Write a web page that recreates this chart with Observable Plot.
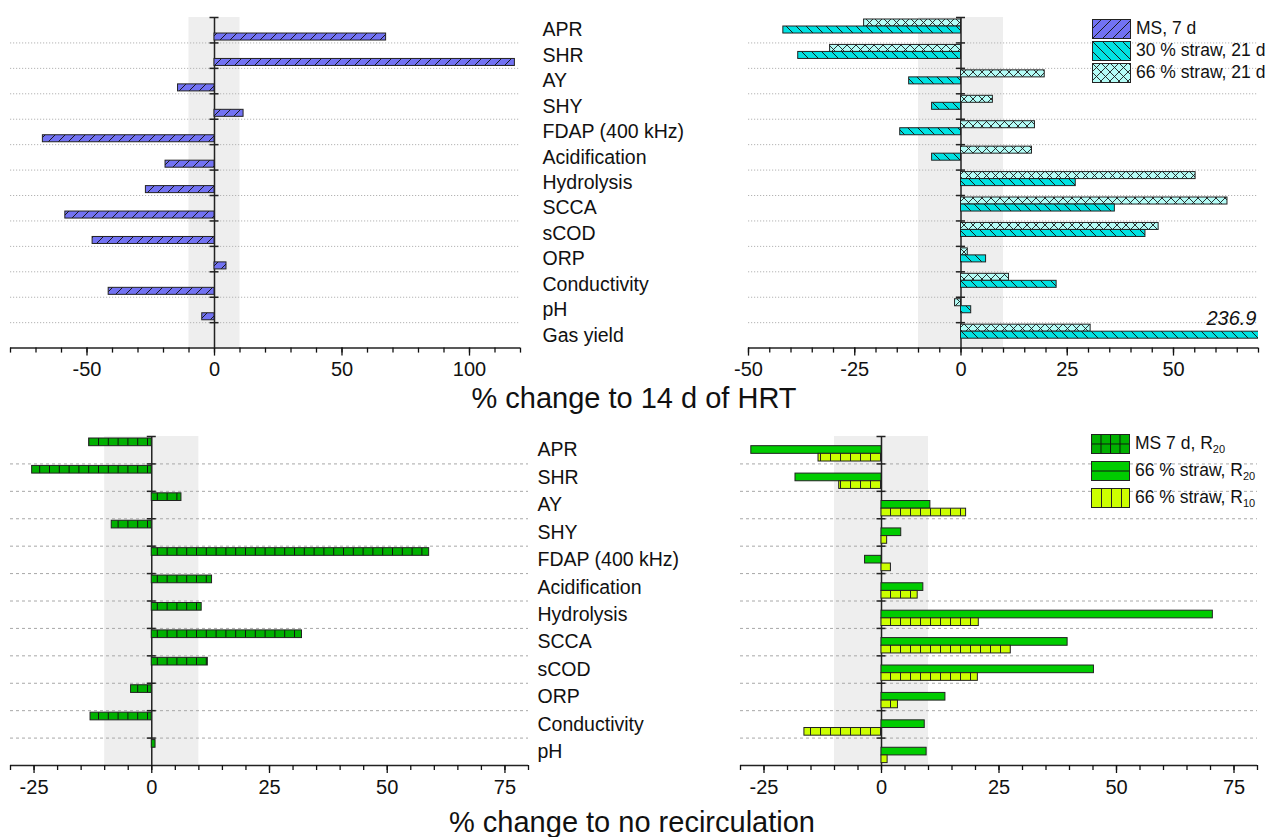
<!DOCTYPE html>
<html><head><meta charset="utf-8">
<script src="https://cdn.jsdelivr.net/npm/d3@7"></script>
<script src="https://cdn.jsdelivr.net/npm/@observablehq/plot@0.6"></script>
<style>
body{margin:0;background:#fff;font-family:"Liberation Sans",Arial,sans-serif;}
#root{position:relative;width:1265px;height:837px;overflow:hidden;background:#fff;}
.panel{position:absolute;}
.lg{position:absolute;display:flex;align-items:center;white-space:nowrap;font-size:17.5px;color:#111;}
.lg svg{margin-right:5px;flex:none;}
.lg sub{font-size:11px;vertical-align:-4px;}
.title{position:absolute;font-size:29px;color:#111;white-space:nowrap;transform:translate(-50%,-50%);}
</style></head>
<body>
<svg width="0" height="0" style="position:absolute">
 <defs>
  <pattern id="pMS" patternUnits="userSpaceOnUse" width="10" height="10">
   <rect width="10" height="10" fill="#7272f3"/>
   <path d="M-1,11 L11,-1 M-6,6 L6,-6 M4,16 L16,4" stroke="#1a1a1a" stroke-width="1"/>
  </pattern>
  <pattern id="p30" patternUnits="userSpaceOnUse" width="10" height="10">
   <rect width="10" height="10" fill="#00e2e2"/>
   <path d="M-1,-1 L11,11 M-6,4 L6,16 M4,-6 L16,6" stroke="#1a1a1a" stroke-width="1"/>
  </pattern>
  <pattern id="p66" patternUnits="userSpaceOnUse" width="9" height="9">
   <rect width="9" height="9" fill="#b4fcf6"/>
   <path d="M-1,-1 L10,10 M-1,10 L10,-1" stroke="#1a1a1a" stroke-width="0.9"/>
  </pattern>
  <pattern id="pMSR" patternUnits="userSpaceOnUse" width="9.8" height="20">
   <rect width="9.8" height="20" fill="#00b000"/>
   <path d="M0.5,0 V20" stroke="#111" stroke-width="1"/>
  </pattern>
  <pattern id="pMSRlg" patternUnits="userSpaceOnUse" width="9.5" height="9.5">
   <rect width="9.5" height="9.5" fill="#00b000"/>
   <path d="M0.5,0 V9.5 M0,0.5 H9.5" stroke="#111" stroke-width="1"/>
  </pattern>
  <pattern id="pR20lg" patternUnits="userSpaceOnUse" width="40" height="20">
   <rect width="40" height="20" fill="#00cc00"/>
   <path d="M0,10 H40" stroke="#111" stroke-width="1"/>
  </pattern>
  <pattern id="pR10" patternUnits="userSpaceOnUse" width="10" height="20">
   <rect width="10" height="20" fill="#ccff00"/>
   <path d="M0.5,0 V20" stroke="#222" stroke-width="1"/>
  </pattern>
 </defs>
</svg>
<div id="root"></div>
<script>
// ---------- data ----------
const catsTop = ["APR","SHR","AY","SHY","FDAP (400 kHz)","Acidification","Hydrolysis","SCCA","sCOD","ORP","Conductivity","pH","Gas yield"];
const catsBottom = ["APR","SHR","AY","SHY","FDAP (400 kHz)","Acidification","Hydrolysis","SCCA","sCOD","ORP","Conductivity","pH"];

// % change to 14 d of HRT
const ms7d      = [67.3, 117.8, -14.3, 11.4, -67.3, -19.2, -26.9, -58.5, -47.8, 4.7, -41.5, -4.8, null];
const straw30   = [-41.8, -38.3, -12.2, -6.8, -14.3, -6.8, 27.0, 36.2, 43.4, 5.9, 22.5, 2.4, 236.9];
const straw66   = [-22.8, -30.8, 19.7, 7.5, 17.4, 16.7, 55.2, 62.7, 46.5, 1.6, 11.3, -1.4, 30.5];

// % change to no recirculation
const ms7dR20    = [-13.3, -25.4, 6.3, -8.5, 58.9, 12.8, 10.6, 31.9, 11.9, -4.4, -13.0, 0.8];
const straw66R20 = [-27.7, -18.3, 10.4, 4.2, -3.5, 8.9, 70.5, 39.6, 45.2, 13.6, 9.2, 9.6];
const straw66R10 = [-13.4, -9.0, 18.0, 1.2, 2.0, 7.7, 20.7, 27.5, 20.5, 3.5, -16.4, 1.3];

const ticksTopLeft = [-50, 0, 50, 100];
const ticksTopRight = [-50, -25, 0, 25, 50];
const ticksBottom = [-25, 0, 25, 50, 75];
const domainTopLeft = [-80, 120];
const domainTopRight = [-50, 70];
const domainBottom = [-30, 80];
const neutralBand = [-10, 10];

const titleTop = "% change to 14 d of HRT";
const titleBottom = "% change to no recirculation";
const legendTop = [["MS, 7 d", "pMS"], ["30 % straw, 21 d", "p30"], ["66 % straw, 21 d", "p66"]];
const legendBottom = [["MS 7 d, R<sub>20</sub>", "pMSRlg"], ["66 % straw, R<sub>20</sub>", "pR20lg"], ["66 % straw, R<sub>10</sub>", "pR10"]];

// ---------- helpers ----------
const rows = (cats, vals) => cats.map((c, i) => ({cat: c, value: vals[i]})).filter(d => d.value != null);
const root = document.getElementById("root");

function panel(o) {
  const n = o.cats.length;
  const step = (o.height - o.mT - o.mB) / n;
  const pad = 2;
  const slot = (step - 2 * pad - 0.4) / 3;
  const marks = [
    Plot.rectX([neutralBand], {x1: d => d[0], x2: d => d[1], fill: "#eeeeee"}),
    Plot.ruleY(o.cats.slice(1), {dy: -step / 2, stroke: o.gridColor, strokeDasharray: o.gridDash, strokeWidth: 1}),
    Plot.ruleX([0], {stroke: "#222", strokeWidth: 1.5}),
    Plot.ruleY(o.cats, {x1: 0, x2: 0, insetLeft: -4.5, insetRight: -4.5, dy: -step / 2, stroke: "#222", strokeWidth: 1.5})
  ];
  for (const s of o.series) {
    marks.push(Plot.barX(s.data, {
      x: "value", y: "cat", fill: s.fill, stroke: "#222", strokeWidth: 1,
      insetTop: pad + s.slot * slot, insetBottom: step - pad - (s.slot + 1) * slot, clip: true
    }));
  }
  marks.push(Plot.ruleY([o.cats[n - 1]], {dy: step / 2, stroke: "#222", strokeWidth: 1.5}));
  marks.push(Plot.axisX({ticks: o.minor, tickSize: 5, tickFormat: () => "", label: null, strokeWidth: 1.3}));
  marks.push(Plot.axisX({ticks: o.major, tickSize: 8, tickPadding: 6, fontSize: 20, label: null, strokeWidth: 1.3,
                         tickFormat: d => String(d)}));
  if (o.labels) marks.push(Plot.axisY({anchor: "right", tickSize: 0, tickPadding: o.labelPad, fontSize: 19.5, label: null}));
  if (o.extra) marks.push(...o.extra(step));
  const p = Plot.plot({
    width: o.width, height: o.height,
    marginLeft: o.mL, marginRight: o.mR, marginTop: o.mT, marginBottom: o.mB,
    x: {domain: o.domain, label: null},
    y: {domain: o.cats, padding: 0, round: false, label: null, axis: o.labels ? undefined : null},
    style: {fontFamily: "'Liberation Sans', Arial, sans-serif", color: "#111", background: "transparent", overflow: "visible"},
    marks
  });
  p.classList.add("panel");
  p.style.left = o.left + "px";
  p.style.top = o.top + "px";
  root.appendChild(p);
}

// ---------- top ----------
panel({
  cats: catsTop, domain: domainTopLeft, major: ticksTopLeft, minor: d3.range(-80, 121, 10),
  series: [{data: rows(catsTop, ms7d), fill: "url(#pMS)", slot: 2}],
  left: 0, top: 0, width: 720, height: 384, mL: 10, mR: 200, mT: 17, mB: 36.4,
  labels: true, labelPad: 22, gridColor: "#b4b4b4", gridDash: "1.2,1.8"
});
panel({
  cats: catsTop, domain: domainTopRight, major: ticksTopRight, minor: d3.range(-50, 71, 5),
  series: [{data: rows(catsTop, straw66), fill: "url(#p66)", slot: 0},
           {data: rows(catsTop, straw30), fill: "url(#p30)", slot: 1}],
  left: 730, top: 0, width: 535, height: 384, mL: 18, mR: 7, mT: 17, mB: 36.4,
  labels: false, gridColor: "#b4b4b4", gridDash: "1.2,1.8",
  extra: step => [Plot.text(rows(catsTop, straw30).filter(d => d.value > domainTopRight[1]), {
    x: d => domainTopRight[1], y: "cat", text: d => d3.format(".1f")(d.value),
    textAnchor: "end", dx: -2, dy: -17, fontSize: 20, fontStyle: "italic", fill: "#111"
  })]
});

// ---------- bottom ----------
panel({
  cats: catsBottom, domain: domainBottom, major: ticksBottom, minor: d3.range(-30, 81, 5),
  series: [{data: rows(catsBottom, ms7dR20), fill: "url(#pMSR)", slot: 0}],
  left: 0, top: 420, width: 720, height: 380, mL: 10, mR: 192, mT: 16, mB: 35,
  labels: true, labelPad: 9, gridColor: "#a8a8a8", gridDash: "3,3"
});
panel({
  cats: catsBottom, domain: domainBottom, major: ticksBottom, minor: d3.range(-30, 81, 5),
  series: [{data: rows(catsBottom, straw66R20), fill: "#00cc00", slot: 1},
           {data: rows(catsBottom, straw66R10), fill: "url(#pR10)", slot: 2}],
  left: 730, top: 420, width: 535, height: 380, mL: 10, mR: 8, mT: 16, mB: 35,
  labels: false, gridColor: "#a8a8a8", gridDash: "3,3"
});

// ---------- titles ----------
function title(text, x, y) {
  const d = document.createElement("div");
  d.className = "title"; d.textContent = text;
  d.style.left = x + "px"; d.style.top = y + "px";
  root.appendChild(d);
}
title(titleTop, 634, 398);
title(titleBottom, 632, 822);

// ---------- legends ----------
function legend(items, x, y0, dy) {
  items.forEach(([label, pat], i) => {
    const d = document.createElement("div");
    d.className = "lg";
    d.style.left = x + "px"; d.style.top = (y0 + i * dy) + "px";
    d.innerHTML = `<svg width="39" height="20"><rect x="0.5" y="0.5" width="38" height="19" fill="url(#${pat})" stroke="#222" stroke-width="1"/></svg><span>${label}</span>`;
    root.appendChild(d);
  });
}
legend(legendTop, 1092, 18, 22);
legend(legendBottom, 1091, 433, 27);
</script>
</body></html>
